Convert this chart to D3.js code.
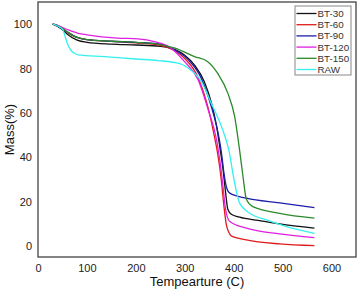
<!DOCTYPE html>
<html>
<head>
<meta charset="utf-8">
<script src="https://cdn.jsdelivr.net/npm/d3@7"></script>
<style>
  body { margin: 0; background: #fff; }
  text { font-family: "Liberation Sans", Arial, sans-serif; }
</style>
</head>
<body>
<svg id="chart" width="357" height="290"></svg>
<script>
// temperature / mass pairs, one pair of arrays per sample
const bt30T = [30, 40, 50, 60, 80, 100, 150, 200, 250, 280, 300, 320, 340, 355, 365, 372, 378, 383, 388, 395, 412, 450, 494, 565];
const bt30M = [100, 99, 97.5, 95.5, 92.8, 91.8, 91, 90.6, 90, 88.5, 86, 81.5, 74, 64, 54, 44, 35, 25, 16.5, 14.3, 13, 11.5, 9.9, 8];

const bt60T = [30, 40, 50, 60, 80, 100, 150, 200, 250, 280, 300, 327, 348, 360, 367, 374, 380, 385, 390, 395, 426, 494, 565];
const bt60M = [100, 99.3, 98, 96.3, 94, 93, 92.2, 91.6, 90.5, 88, 84.5, 76, 62, 50, 42, 31, 18, 9.5, 6.2, 4.5, 2.7, 0.9, 0.1];

const bt90T = [30, 40, 50, 60, 80, 100, 150, 200, 250, 280, 307, 334, 354, 368, 375, 380, 385, 392, 426, 494, 565];
const bt90M = [100, 99.5, 98, 96.5, 94, 93, 92.3, 91.8, 91, 88.3, 84, 75.5, 63, 51, 42, 33, 26.7, 23.8, 21.5, 19.4, 17.3];

const bt120T = [30, 40, 50, 60, 82, 100, 163, 204, 240, 270, 300, 327, 348, 365, 372, 378, 383, 387, 392, 426, 494, 565];
const bt120M = [100, 99.5, 98.5, 97.6, 95.9, 95.2, 93.7, 93.4, 92, 89.5, 83, 75, 61.3, 47.8, 38, 27, 17, 13, 11, 8, 5.4, 3.7];

const bt150T = [30, 40, 50, 60, 80, 100, 150, 200, 250, 280, 320, 347, 367, 388, 402, 412, 419, 426, 439, 494, 565];
const bt150M = [100, 99.3, 98, 96.5, 94, 93, 92.3, 91.8, 90.8, 89.2, 85.4, 83.1, 77.9, 68.9, 58.3, 43.3, 31.3, 21, 17.7, 14.7, 12.5];

const rawT = [30, 40, 51, 56, 61, 68, 75, 82, 136, 200, 245, 290, 307, 334, 354, 375, 390, 402, 412, 433, 467, 508, 565];
const rawM = [100, 99.2, 97.4, 94, 90.7, 88, 86.9, 86.2, 85.4, 84.3, 83.6, 82.2, 80.2, 74.1, 64.4, 53.8, 43.3, 28.3, 19.3, 14.7, 11.7, 8.7, 5.7];

const names = ["BT-30", "BT-60", "BT-90", "BT-120", "BT-150", "RAW"];
const colors = ["#111111", "#e01b1b", "#1e1ea8", "#e020e0", "#2a8a2a", "#33f0f0"];
const xTicks = [0, 100, 200, 300, 400, 500, 600];
const yTicks = [0, 20, 40, 60, 80, 100];

const series = [
  [bt30T, bt30M], [bt60T, bt60M], [bt90T, bt90M],
  [bt120T, bt120M], [bt150T, bt150M], [rawT, rawM]
].map(([t, m], i) => ({
  name: names[i],
  color: colors[i],
  values: t.map((v, j) => ({ t: v, m: m[j] }))
}));

const svg = d3.select("#chart");
const plot = { left: 38, right: 356, top: 2, bottom: 257 };

const x = d3.scaleLinear().domain([0, 650]).range([plot.left, plot.right]);
const y = d3.scaleLinear().domain([-5, 110]).range([plot.bottom, plot.top]);

// axes without tick marks, the frame is drawn afterwards
const xAxis = svg.append("g")
    .attr("transform", "translate(0," + plot.bottom + ")")
    .call(d3.axisBottom(x).tickValues(xTicks).tickSize(0).tickPadding(7));
const yAxis = svg.append("g")
    .attr("transform", "translate(" + plot.left + ",0)")
    .call(d3.axisLeft(y).tickValues(yTicks).tickSize(0).tickPadding(6));

[xAxis, yAxis].forEach(a => {
  a.select(".domain").remove();
  a.selectAll("text")
    .style("font-size", "11px")
    .style("font-family", "'Liberation Sans', Arial, sans-serif")
    .attr("fill", "#222");
});

const line = d3.line()
    .x(d => x(d.t))
    .y(d => y(d.m))
    .curve(d3.curveMonotoneX);

svg.append("g")
  .selectAll("path")
  .data(series)
  .join("path")
    .attr("fill", "none")
    .attr("stroke", d => d.color)
    .attr("stroke-width", 1.3)
    .attr("d", d => line(d.values));

svg.append("rect")
    .attr("x", plot.left)
    .attr("y", plot.top)
    .attr("width", plot.right - plot.left)
    .attr("height", plot.bottom - plot.top)
    .attr("fill", "none")
    .attr("stroke", "#444")
    .attr("stroke-width", 1.3);

svg.append("text")
    .attr("x", (plot.left + plot.right) / 2)
    .attr("y", 286)
    .attr("text-anchor", "middle")
    .style("font-size", "13px")
    .attr("fill", "#111")
    .text("Tempearture (C)");

svg.append("text")
    .attr("transform", "translate(14," + ((plot.top + plot.bottom) / 2) + ") rotate(-90)")
    .attr("text-anchor", "middle")
    .style("font-size", "13px")
    .attr("fill", "#111")
    .text("Mass(%)");

// legend
const legend = svg.append("g").attr("transform", "translate(295,6)");
legend.append("rect")
    .attr("width", 56)
    .attr("height", 69)
    .attr("fill", "#fff")
    .attr("stroke", "#888")
    .attr("stroke-width", 1);

const row = legend.selectAll("g.row")
  .data(series)
  .join("g")
    .attr("class", "row")
    .attr("transform", (d, i) => "translate(0," + (7.5 + i * 11.2) + ")");

row.append("line")
    .attr("x1", 1.5).attr("x2", 21.5)
    .attr("stroke", d => d.color)
    .attr("stroke-width", 1.3);

row.append("text")
    .attr("x", 22.5)
    .attr("dy", "0.35em")
    .style("font-size", "9.8px")
    .attr("fill", "#333")
    .text(d => d.name);
</script>
</body>
</html>
